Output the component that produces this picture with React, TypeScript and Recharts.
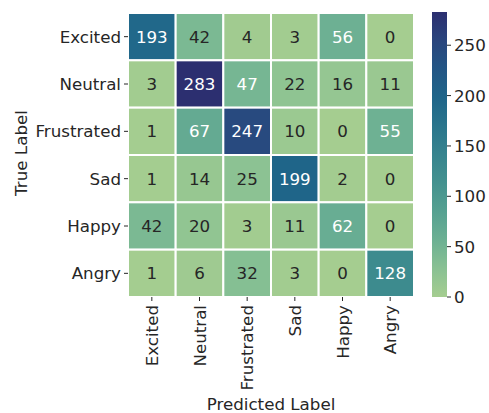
import React from "react"
import { ScatterChart, Scatter, XAxis, YAxis, BarChart, Bar } from "recharts"

const labels = ["Excited", "Neutral", "Frustrated", "Sad", "Happy", "Angry"]

const excited = [193, 42, 4, 3, 56, 0]
const neutral = [3, 283, 47, 22, 16, 11]
const frustrated = [1, 67, 247, 10, 0, 55]
const sad = [1, 14, 25, 199, 2, 0]
const happy = [42, 20, 3, 11, 62, 0]
const angry = [1, 6, 32, 3, 0, 128]

const matrix = [excited, neutral, frustrated, sad, happy, angry]
const colorbarTicks = [0, 50, 100, 150, 200, 250]

const VMAX = 283
const FONT = "DejaVu Sans, sans-serif"
const FS = 16.7
const TEXT = "#262626"

// approximate seaborn "crest" colormap
const crest = [
  [0.0, [165, 205, 144]],
  [0.1, [137, 193, 147]],
  [0.2, [108, 176, 147]],
  [0.3, [86, 161, 145]],
  [0.4, [68, 146, 143]],
  [0.5, [55, 132, 142]],
  [0.6, [42, 117, 140]],
  [0.7, [31, 101, 137]],
  [0.8, [35, 86, 133]],
  [0.9, [42, 69, 125]],
  [1.0, [44, 47, 112]],
] as [number, number[]][]

function crestColor(t: number) {
  const v = Math.max(0, Math.min(1, t))
  for (let i = 1; i < crest.length; i++) {
    const [t1, c1] = crest[i]
    const [t0, c0] = crest[i - 1]
    if (v <= t1) {
      const f = (v - t0) / (t1 - t0)
      const c = c0.map((a, k) => Math.round(a + (c1[k] - a) * f))
      return `rgb(${c[0]},${c[1]},${c[2]})`
    }
  }
  const c = crest[crest.length - 1][1]
  return `rgb(${c[0]},${c[1]},${c[2]})`
}

const cells = matrix.flatMap((row, r) => row.map((value, c) => ({ col: c, row: r, value })))

const W = 489
const H = 413
const LEFT = 128
const RIGHT = 75
const TOP = 13
const BOTTOM = 116
const cellW = (W - LEFT - RIGHT) / 6
const cellH = (H - TOP - BOTTOM) / 6

function CellShape(props: any) {
  const { cx, cy, payload } = props
  const v = payload.value
  return (
    <g>
      <rect
        x={cx - cellW / 2}
        y={cy - cellH / 2}
        width={cellW}
        height={cellH}
        fill={crestColor(v / VMAX)}
        stroke="#fff"
        strokeWidth={2}
      />
      <text
        x={cx}
        y={cy}
        dy="0.36em"
        textAnchor="middle"
        fontSize={FS}
        fontFamily={FONT}
        fill={v > 44 ? "#fff" : TEXT}
      >
        {v}
      </text>
    </g>
  )
}

function XTick(props: any) {
  const { x, y, payload } = props
  return (
    <text
      x={x}
      y={y + 2}
      dy="0.36em"
      textAnchor="end"
      fontSize={FS}
      fontFamily={FONT}
      fill={TEXT}
      transform={`rotate(-90 ${x} ${y + 2})`}
    >
      {labels[payload.value]}
    </text>
  )
}

export default function App() {
  return (
    <div style={{ position: "absolute", left: 0, top: 0, width: W, height: H, background: "#fff" }}>
      <div style={{ position: "absolute", left: 0, top: 0 }}>
        <ScatterChart width={W} height={H} margin={{ top: TOP, right: RIGHT, bottom: 0, left: 0 }}>
          <XAxis
            type="number"
            dataKey="col"
            domain={[-0.5, 5.5]}
            ticks={[0, 1, 2, 3, 4, 5]}
            allowDataOverflow
            height={BOTTOM}
            axisLine={false}
            tickSize={4}
            tickLine={{ stroke: TEXT }}
            tick={<XTick />}
            interval={0}
            label={() => (
              <text x={271} y={410} textAnchor="middle" fontSize={FS} fontFamily={FONT} fill={TEXT}>
                Predicted Label
              </text>
            )}
          />
          <YAxis
            type="number"
            dataKey="row"
            domain={[-0.5, 5.5]}
            ticks={[0, 1, 2, 3, 4, 5]}
            reversed
            allowDataOverflow
            width={LEFT}
            axisLine={false}
            tickSize={4}
            tickMargin={3}
            tickLine={{ stroke: TEXT }}
            tick={{ fontSize: FS, fontFamily: FONT, fill: TEXT }}
            tickFormatter={(v: number) => labels[v]}
            interval={0}
            label={() => (
              <text
                x={27}
                y={153}
                textAnchor="middle"
                fontSize={FS}
                fontFamily={FONT}
                fill={TEXT}
                transform="rotate(-90 27 153)"
              >
                True Label
              </text>
            )}
          />
          <Scatter data={cells} shape={<CellShape />} isAnimationActive={false} />
        </ScatterChart>
      </div>
      <div style={{ position: "absolute", left: 420, top: 0 }}>
        <BarChart
          width={69}
          height={H}
          data={[{ name: "cb", v: VMAX }]}
          margin={{ top: 12, right: 0, bottom: BOTTOM, left: 12 }}
          barCategoryGap={0}
        >
          <defs>
            <linearGradient id="cbgrad" x1="0" y1="0" x2="0" y2="1">
              {crest
                .slice()
                .reverse()
                .map(([t, c]) => (
                  <stop key={t} offset={`${(1 - t) * 100}%`} stopColor={`rgb(${c[0]},${c[1]},${c[2]})`} />
                ))}
            </linearGradient>
          </defs>
          <XAxis dataKey="name" hide />
          <YAxis
            orientation="right"
            domain={[0, VMAX]}
            ticks={colorbarTicks}
            width={42}
            axisLine={false}
            tickSize={4}
            tickMargin={3}
            tickLine={{ stroke: TEXT }}
            tick={{ fontSize: FS, fontFamily: FONT, fill: TEXT, textAnchor: "start" }}
            interval={0}
          />
          <Bar dataKey="v" fill="url(#cbgrad)" isAnimationActive={false} />
        </BarChart>
      </div>
    </div>
  )
}
